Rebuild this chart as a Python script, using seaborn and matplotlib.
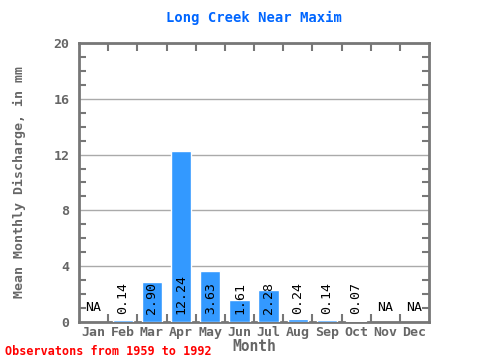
import numpy as np
import pandas as pd
import matplotlib
matplotlib.use("Agg")
import matplotlib.pyplot as plt
import seaborn as sns
from matplotlib.ticker import MultipleLocator

months = ["Jan", "Feb", "Mar", "Apr", "May", "Jun", "Jul", "Aug", "Sep", "Oct", "Nov", "Dec"]
discharge = [np.nan, 0.14, 2.90, 12.24, 3.63, 1.61, 2.28, 0.24, 0.14, 0.07, np.nan, np.nan]
labels = ["NA", "0.14", "2.90", "12.24", "3.63", "1.61", "2.28", "0.24", "0.14", "0.07", "NA", "NA"]

sns.set_style("white")
plt.rcParams['font.family'] = ['DejaVu Sans Mono']

df = pd.DataFrame({"Month": months, "Discharge": discharge})

fig = plt.figure(figsize=(4.8, 3.6), dpi=100)
ax = fig.add_axes([0.1646, 0.1056, 0.7292, 0.775])

sns.barplot(data=df, x="Month", y="Discharge", color="#3399ff", width=0.7,
            saturation=1, ax=ax, zorder=3)

ax.set_xlim(-0.5, 11.5)
ax.set_ylim(0, 20)
ax.yaxis.set_major_locator(MultipleLocator(4))
ax.yaxis.set_minor_locator(MultipleLocator(1))
ax.grid(axis="y", which="major", color="#aaaaaa", linewidth=1, zorder=0)

grey = "#777777"
for s in ax.spines.values():
    s.set_color(grey)
    s.set_linewidth(2)

ax.tick_params(axis="y", which="both", direction="in", left=True, right=True,
               color=grey, width=1.5, labelcolor="#666666", labelsize=9.5)
ax.tick_params(axis="y", which="major", length=0, pad=7)
ax.tick_params(axis="y", which="minor", length=5)
for lab in ax.get_yticklabels():
    lab.set_fontweight("bold")

ax.set_xticks(range(12))
ax.set_xticklabels(months, fontweight="bold", color="#666666", fontsize=9.5)
ax.tick_params(axis="x", which="major", length=0, pad=3)
ax.set_xticks(np.arange(0.5, 11.5, 1), minor=True)
ax.tick_params(axis="x", which="minor", direction="in", top=True, bottom=True,
               length=6, width=1.5, color=grey)

for i, (v, t) in enumerate(zip(discharge, labels)):
    if np.isnan(v):
        ax.text(i, 0.6, t, ha="center", va="bottom", fontsize=9.5, color="black", zorder=4)
    else:
        ax.text(i, 0.55, t, ha="center", va="bottom", rotation=90, fontsize=9.5,
                color="black", zorder=4)

ax.set_xlabel("Month", fontweight="bold", color="#666666", fontsize=10.5, labelpad=0)
ax.set_ylabel("Mean Monthly Discharge, in mm", fontweight="bold", color="#666666",
              fontsize=9.5, labelpad=20)
ax.set_title("Long Creek Near Maxim", fontweight="bold", color="#0066ff",
             fontsize=10, pad=15)

fig.text(0.01, 0.005, "Observatons from 1959 to 1992", color="red",
         fontweight="bold", fontsize=8.5, ha="left", va="bottom")

fig.savefig("out.png", dpi=100)
